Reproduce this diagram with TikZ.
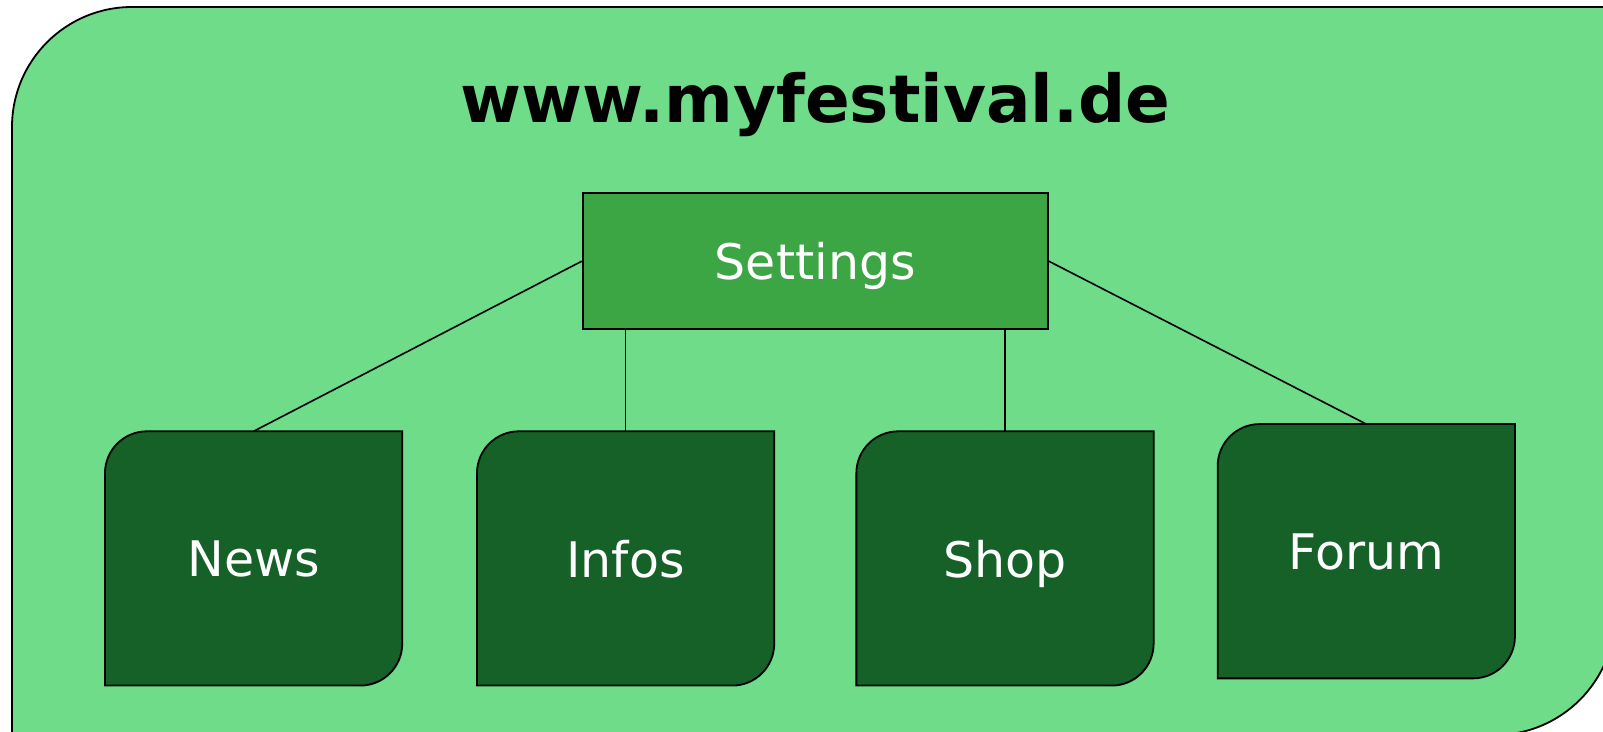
\documentclass[tikz,border=0pt]{standalone}
\usepackage{fontspec}
\setmainfont{DejaVu Sans}
\usetikzlibrary{positioning,backgrounds}
\definecolor{sitegreen}{HTML}{6EDC88}
\definecolor{settingsgreen}{HTML}{3DA644}
\definecolor{pagegreen}{HTML}{156128}
\tikzstyle{settingsbox} = [rectangle, minimum width=232.6pt, minimum height=68pt, text centered, text depth=0pt, draw=black, line width=0.9pt, fill=settingsgreen, text=white, font=\fontsize{24.5}{29}\selectfont]
\tikzstyle{page} = [rectangle, minimum width=148.25pt, minimum height=126.75pt, text centered, text depth=0pt, text=white, font=\fontsize{24.5}{29}\selectfont]
\tikzstyle{pageshape} = [draw=black, line width=0.9pt, fill=pagegreen]
\tikzstyle{link} = [draw=black, line width=0.8pt]

\begin{document}
\begin{tikzpicture}[x=1pt, y=1pt]
        \useasboundingbox (0,0) rectangle (801.5,-366);
        \node (title) [anchor=base, font=\fontsize{33}{40}\selectfont\bfseries] at (407.8,-61.5) {www.myfestival.de};
        \node (settings) [settingsbox] at (407.65,-130.6) {Settings};

        \node (news) [page, below=50.6pt of settings, xshift=-280.85pt] {News};
        \node (infos) [page, below=50.6pt of settings, xshift=-94.85pt] {Infos};
        \node (shop) [page, below=50.6pt of settings, xshift=94.85pt] {Shop};
        \node (forum) [page, below=47pt of settings, xshift=275.5pt] {Forum};

        \begin{scope}[on background layer]
            % site frame, runs off the right and bottom edge
            \draw [fill=sitegreen, line width=0.9pt] (6,-367.5) -- (6,-63.5) arc[start angle=180, end angle=90, radius=60pt] -- (807.5,-3.5) -- (807.5,-307.5) arc[start angle=0, end angle=-90, radius=60pt] -- cycle;
            \foreach \p in {news,infos,shop,forum}
                \draw [pageshape] (\p.south west) -- ([yshift=-21pt]\p.north west) arc[start angle=180, end angle=90, radius=21pt] -- (\p.north east) -- ([yshift=21pt]\p.south east) arc[start angle=0, end angle=-90, radius=21pt] -- cycle;
        \end{scope}

        \draw [link] (settings.west) -- (news.north);
        \draw [link] (infos.north |- settings.south) -- (infos.north);
        \draw [link] (shop.north |- settings.south) -- (shop.north);
        \draw [link] (settings.east) -- (forum.north);
    \end{tikzpicture}
\end{document}
